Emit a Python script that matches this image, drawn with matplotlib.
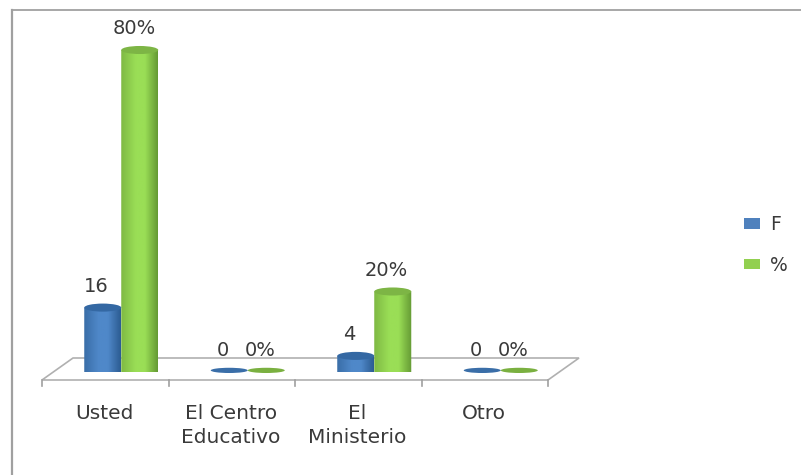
import numpy as np
import matplotlib
matplotlib.use("Agg")
import matplotlib.pyplot as plt
from matplotlib.patches import Ellipse, Polygon, Patch, PathPatch
from matplotlib.path import Path
from matplotlib.colors import LinearSegmentedColormap
from matplotlib.lines import Line2D

categories = ["Usted", "El Centro\nEducativo", "El\nMinisterio", "Otro"]
series_names = ["F", "%"]
f_values = [16, 0, 4, 0]
pct_values = [80, 0, 20, 0]
f_labels = ["16", "0", "4", "0"]
pct_labels = ["80%", "0%", "20%", "0%"]

W, H = 801, 475
plt.rcParams["font.family"] = ["DejaVu Sans"]
fig = plt.figure(figsize=(W / 100, H / 100), dpi=100, facecolor="white")

# axes: x spans the category ticks, y baseline at px 372, 80 at px 50
px_l, px_r, px_base, px_80 = 42, 548, 372, 50
ax = fig.add_axes([px_l / W, 1 - px_base / H, (px_r - px_l) / W, (px_base - px_80) / H])
ax.set_facecolor("none")
for s in ax.spines.values():
    s.set_visible(False)
ax.set_xlim(-0.5, 3.5)
ax.set_ylim(0, 80)
ux = 4 / (px_r - px_l)       # data x per px
uy = 80 / (px_base - px_80)  # data y per px

# 3-D floor
front, back, depth = -8 * uy, 14 * uy, 31 * ux
floor = Polygon([(-0.5, front), (3.5, front), (3.5 + depth, back), (-0.5 + depth, back)],
                closed=True, fc="white", ec="#b0b0b0", lw=1.2, clip_on=False, zorder=1)
ax.add_patch(floor)

ax.set_xticks(np.arange(-0.5, 4.0, 1.0))
ax.set_xticklabels([])
ax.tick_params(axis="x", length=0)
ax.set_yticks([])
tick_bot = front - 6 * uy
for xt in np.arange(-0.5, 4.0, 1.0):
    ax.plot([xt, xt], [front, tick_bot], color="#a0a0a0", lw=1.2, clip_on=False, zorder=1)

for i, c in enumerate(categories):
    ax.text(i - 1 * ux, front - 24 * uy, c, ha="center", va="top", fontsize=14.5,
            color="#3a3a3a", linespacing=1.35, clip_on=False)

styles = [
    dict(c=["#3a6ea8", "#4f88c9", "#4f88c9", "#2c5c92"], top="#3468a3", flat="#3a6ea8"),
    dict(c=["#7fb944", "#9ade56", "#9ade56", "#659a34"], top="#7db545", flat="#7ab040"),
]
bar_w = 37 * ux
offset = 16 * ux
semi = 1.0  # half-height of ellipse in value units


def cylinder(xc, v, st):
    if v == 0:
        ax.add_patch(Ellipse((xc, 0.4), bar_w, 1.3, angle=0, fc=st["flat"], ec="none", zorder=3, clip_on=False))
        return
    cmap = LinearSegmentedColormap.from_list("c", list(zip([0, 0.4, 0.65, 1], st["c"])))
    grad = np.linspace(0, 1, 64)[None, :]
    im = ax.imshow(grad, cmap=cmap, extent=[xc - bar_w / 2, xc + bar_w / 2, -semi, v], aspect="auto",
                   origin="lower", zorder=3, clip_on=True)
    t = np.linspace(np.pi, 2 * np.pi, 30)
    xs = xc + bar_w / 2 * np.cos(t)
    ys = semi * np.sin(t)
    verts = np.column_stack([np.r_[xs, xc + bar_w / 2, xc - bar_w / 2, xs[0]], np.r_[ys, v, v, ys[0]]])
    p = PathPatch(Path(verts), transform=ax.transData, fc="none", ec="none")
    ax.add_patch(p)
    im.set_clip_path(p)
    ax.add_patch(Ellipse((xc, v), bar_w, 2 * semi, fc=st["top"], ec="none", zorder=4, clip_on=False))


for i in range(len(categories)):
    xb = i + offset - bar_w / 2
    xg = i + offset + bar_w / 2
    cylinder(xb, f_values[i], styles[0])
    cylinder(xg, pct_values[i], styles[1])
    for xp, v, lab in ((xb, f_values[i], f_labels[i]), (xg, pct_values[i], pct_labels[i])):
        ax.annotate(lab, (xp, v), xytext=(-6 * 0.72, 21 * 0.72), textcoords="offset points",
                    ha="center", va="center", fontsize=14, color="#3a3a3a",
                    annotation_clip=False, zorder=5)

ax.set_xlim(-0.5, 3.5)
ax.set_ylim(0, 80)

handles = [Patch(fc="#4f81bd", ec="none"), Patch(fc="#92d050", ec="none")]
fig.legend(handles, series_names, loc="center left", bbox_to_anchor=(744 / W, 1 - 245 / H),
           frameon=False, fontsize=13.5, handlelength=0.85, handleheight=0.5,
           labelspacing=1.13, handletextpad=0.55, borderpad=0, borderaxespad=0, labelcolor="#3a3a3a")

fig.add_artist(Line2D([12 / W, 12 / W], [0, 1 - 10 / H], color="#a0a0a0", lw=1.6))
fig.add_artist(Line2D([12 / W, 1], [1 - 10 / H, 1 - 10 / H], color="#a0a0a0", lw=1.3))

fig.savefig("out.png", dpi=100)
